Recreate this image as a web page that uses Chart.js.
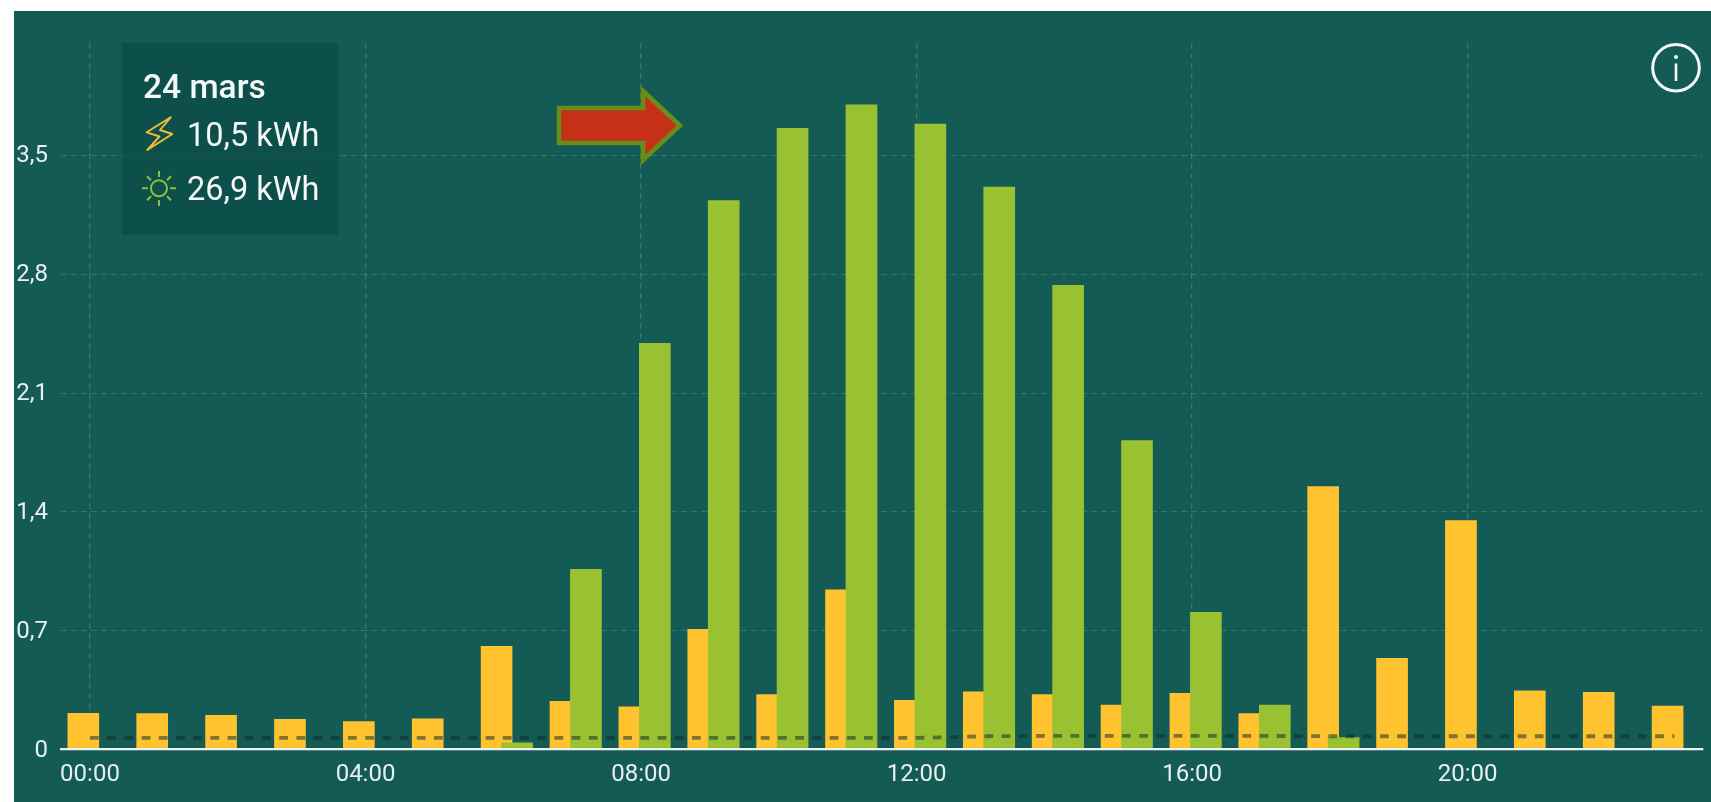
<!DOCTYPE html>
<html lang="fr">
<head>
<meta charset="utf-8">
<title>24 mars</title>
<script src="https://cdn.jsdelivr.net/npm/chart.js@4/dist/chart.umd.min.js"></script>
<style>
html,body{margin:0;padding:0;background:#fff;width:1711px;height:802px;overflow:hidden}
#panel{position:absolute;left:13.5px;top:11px;right:0;bottom:0;background:#145a55}
#wrap{position:absolute;left:0;top:0;width:1711px;height:802px}
#overlay{position:absolute;left:0;top:0;pointer-events:none}
#overlay text{font-family:Roboto,sans-serif;fill:#f4f8f7}
</style>
</head>
<body>
<div id="panel"></div>
<div id="wrap"><canvas id="c" width="1711" height="802"></canvas></div>
<svg id="overlay" width="1711" height="802" viewBox="0 0 1711 802">
  <rect x="122" y="43" width="216" height="192" fill="#0b4c47" fill-opacity="0.75"/>
  <text x="143" y="98" font-size="33.5" font-weight="500">24 mars</text>
  <polygon points="170.7,117.3 146.7,132.3 159.5,136.5 147.3,150 172.3,134 160,130" fill="none" stroke="#f2bd35" stroke-width="1.9" stroke-linejoin="round"/>
  <text x="187" y="145.5" font-size="32.5">10,5 kWh</text>
  <g fill="none" stroke="#8fc03c" stroke-width="2">
    <circle cx="159" cy="188.3" r="8"/>
    <path d="M159 171v6M159 200v6M142 188.3h6M170 188.3h6M147 176.3l4 4M167 196.3l4 4M171 176.3l-4 4M151 196.3l-4 4"/>
  </g>
  <text x="187" y="200" font-size="32.5">26,9 kWh</text>
  <polygon points="559,108 643,108 643,91 680,125.5 643,160 643,143 559,143" fill="#c62f18" stroke="#668f1a" stroke-width="4.5" stroke-linejoin="miter"/>
  <g fill="none" stroke="#f4f8f7">
    <circle cx="1676" cy="67.7" r="23.3" stroke-width="3"/>
    <path d="M1676 63.5V81" stroke-width="2.6"/>
  </g>
  <circle cx="1676" cy="57" r="2" fill="#f4f8f7"/>
</svg>
<script>
const hourLabels = ["00:00","01:00","02:00","03:00","04:00","05:00","06:00","07:00","08:00","09:00","10:00","11:00","12:00","13:00","14:00","15:00","16:00","17:00","18:00","19:00","20:00","21:00","22:00","23:00"];
const gridValues = [0.213,0.211,0.201,0.178,0.164,0.181,0.608,0.284,0.252,0.708,0.323,0.940,0.290,0.339,0.323,0.262,0.331,0.211,1.549,0.537,1.348,0.345,0.337,0.256];
const solarValues = [0,0,0,0,0,0,0.040,1.062,2.393,3.234,3.660,3.798,3.684,3.313,2.735,1.820,0.808,0.262,0.070,0,0,0,0,0];
const baseLoad = [0.068,0.068,0.068,0.068,0.068,0.068,0.068,0.068,0.068,0.068,0.068,0.068,0.068,0.078,0.080,0.080,0.080,0.080,0.078,0.078,0.078,0.078,0.078,0.078];
const yTickValues = [0,0.7,1.4,2.1,2.8,3.5];
const xTickHours = [0,4,8,12,16,20];

const GRID = 'rgba(255,255,255,0.16)';
const TEXT = '#e8f0ef';
const yellowShift = -0.097, greenShift = 0.2;

new Chart(document.getElementById('c'), {
  data: {
    datasets: [
      { type:'line', order:0, data: hourLabels.map((_,i)=>({x:i,y:baseLoad[i]})),
        borderColor:'rgba(15,42,42,0.52)', borderWidth:3.8, borderDash:[8.8,8.4], pointRadius:0, tension:0, fill:false },
      { type:'bar', order:1, grouped:false, barThickness:31, backgroundColor:'#9ac132',
        data: hourLabels.map((_,i)=>({x:i+greenShift,y:solarValues[i]})) },
      { type:'bar', order:2, grouped:false, barThickness:31, backgroundColor:'#fec32e',
        data: hourLabels.map((_,i)=>({x:i+yellowShift,y:gridValues[i]})) }
    ]
  },
  options: {
    responsive:false, animation:false, events:[],
    layout:{padding:{top:43,right:8,left:0,bottom:0}},
    plugins:{legend:{display:false},tooltip:{enabled:false},title:{display:false}},
    scales:{
      x:{
        type:'linear', min:-0.421, max:23.417, offset:false,
        afterBuildTicks:s=>{s.ticks=xTickHours.map(v=>({value:v}));},
        afterFit:s=>{s.height=52.5;},
        grid:{color:GRID,lineWidth:1.3,drawTicks:false,offset:false},
        border:{display:true,color:'#eef4f3',width:2.2,dash:[6,4],z:1},
        ticks:{color:TEXT,font:{family:'Roboto',size:24},padding:11,maxRotation:0,autoSkip:false,
          callback:v=>hourLabels[v]}
      },
      y:{
        type:'linear', min:0, max:4.162,
        afterBuildTicks:s=>{s.ticks=yTickValues.map(v=>({value:v}));},
        afterFit:s=>{s.width=61;},
        grid:{color:GRID,lineWidth:1,drawTicks:false},
        border:{display:false,dash:[6,4]},
        ticks:{color:TEXT,font:{family:'Roboto',size:24},padding:13,labelOffset:1,
          callback:v=>String(v).replace('.',',')}
      }
    }
  }
});
</script>
</body>
</html>
